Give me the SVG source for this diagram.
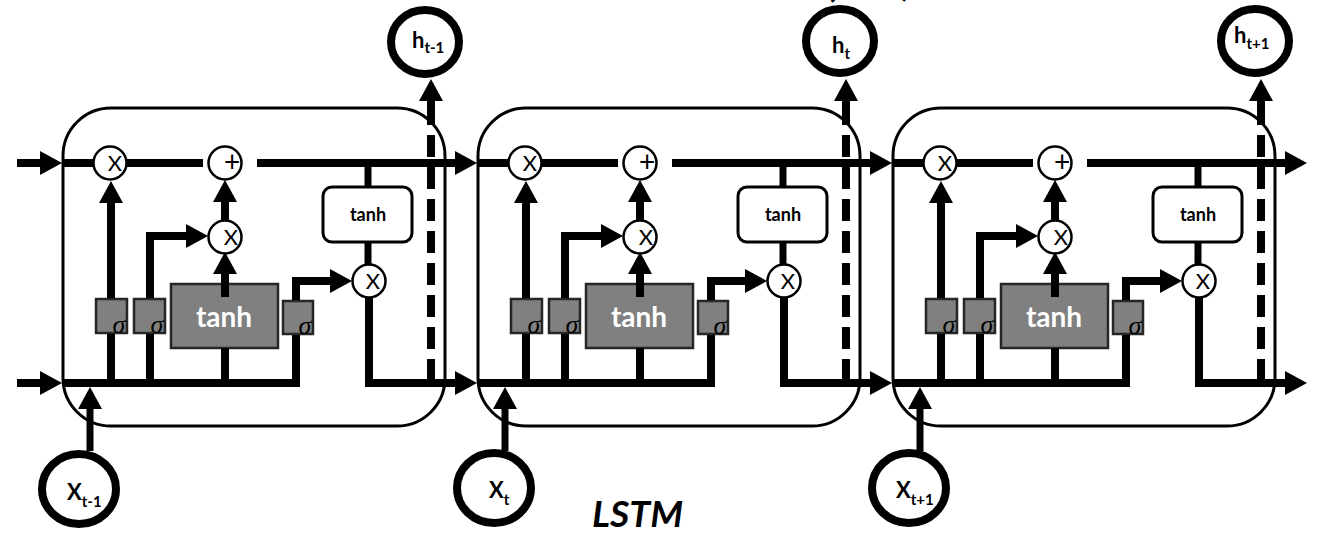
<svg xmlns="http://www.w3.org/2000/svg" width="1324" height="534" viewBox="0 0 1324 534">
<defs>
<marker id="ah" markerUnits="userSpaceOnUse" markerWidth="24" markerHeight="24" refX="0" refY="12" orient="auto" viewBox="0 0 24 24"><path d="M0,0 L22,12 L0,24 z" fill="#000"/></marker>
<style>
.cell{fill:none;stroke:#000;stroke-width:3}
.ln{fill:none;stroke:#000;stroke-width:8;stroke-linejoin:miter}
.thin{stroke-width:7}
.arr{marker-end:url(#ah)}
.dash{stroke-dasharray:22 10}
.op{fill:#fff;stroke:#000;stroke-width:2.5}
.opt{font-family:Lato,"Liberation Sans",sans-serif;font-size:22px;fill:#000;text-anchor:middle}
.plus{font-size:28px}
.wbox{fill:#fff;stroke:#000;stroke-width:3}
.wt{font-family:Lato,"Liberation Sans",sans-serif;font-weight:bold;font-size:18px;fill:#000;text-anchor:middle}
.gate{fill:#808080;stroke:#262626;stroke-width:2.5}
.gt{font-family:Lato,"Liberation Sans",sans-serif;font-weight:bold;font-size:28px;fill:#fff;text-anchor:middle}
.sig{font-family:"Liberation Serif",serif;font-style:italic;font-size:26px;fill:#000;text-anchor:middle}
.io{fill:#fff;stroke:#000;stroke-width:8}
.lbl{font-family:Lato,"Liberation Sans",sans-serif;font-weight:bold;font-size:22px;fill:#000}
.sub{font-size:15px}
.title{font-family:Lato,"Liberation Sans",sans-serif;font-weight:bold;font-style:italic;font-size:36px;fill:#000}
</style>
</defs>
<rect width="1324" height="534" fill="#fff"/>

<!-- cells -->
<g id="cell1">
  <g id="cell1-frame"><rect class="cell" x="63" y="108" width="382" height="318" rx="48"/></g>
  <g id="cell1-forget-mul"><circle class="op" cx="110" cy="163" r="16.5"/><text class="opt" x="115" y="171">X</text></g>
  <g id="cell1-add"><circle class="op" cx="225" cy="163" r="16.5"/><text class="opt plus" x="232" y="172">+</text></g>
  <g id="cell1-input-mul"><circle class="op" cx="225" cy="237" r="16.5"/><text class="opt" x="231" y="245">X</text></g>
  <g id="cell1-output-mul"><circle class="op" cx="369" cy="281" r="16.5"/><text class="opt" x="373" y="289">X</text></g>
  <g id="cell1-tanh-out"><rect class="wbox" x="323" y="187" width="89" height="55" rx="9"/><text class="wt" x="368" y="221">tanh</text></g>
  <g id="cell1-forget-gate"><rect class="gate" x="96" y="299" width="31" height="34"/><text class="sig" x="119" y="333">σ</text></g>
  <g id="cell1-input-gate"><rect class="gate" x="134" y="299" width="31" height="34"/><text class="sig" x="157" y="333">σ</text></g>
  <g id="cell1-candidate"><rect class="gate" x="171" y="284" width="107" height="64"/><text class="gt" x="224" y="327">tanh</text></g>
  <g id="cell1-output-gate"><rect class="gate" x="283" y="301" width="30" height="33"/><text class="sig" x="305" y="334">σ</text></g>
</g>
<g id="cell2" transform="translate(415,0)">
  <g id="cell2-frame"><rect class="cell" x="63" y="108" width="382" height="318" rx="48"/></g>
  <g id="cell2-forget-mul"><circle class="op" cx="110" cy="163" r="16.5"/><text class="opt" x="115" y="171">X</text></g>
  <g id="cell2-add"><circle class="op" cx="225" cy="163" r="16.5"/><text class="opt plus" x="232" y="172">+</text></g>
  <g id="cell2-input-mul"><circle class="op" cx="225" cy="237" r="16.5"/><text class="opt" x="231" y="245">X</text></g>
  <g id="cell2-output-mul"><circle class="op" cx="369" cy="281" r="16.5"/><text class="opt" x="373" y="289">X</text></g>
  <g id="cell2-tanh-out"><rect class="wbox" x="323" y="187" width="89" height="55" rx="9"/><text class="wt" x="368" y="221">tanh</text></g>
  <g id="cell2-forget-gate"><rect class="gate" x="96" y="299" width="31" height="34"/><text class="sig" x="119" y="333">σ</text></g>
  <g id="cell2-input-gate"><rect class="gate" x="134" y="299" width="31" height="34"/><text class="sig" x="157" y="333">σ</text></g>
  <g id="cell2-candidate"><rect class="gate" x="171" y="284" width="107" height="64"/><text class="gt" x="224" y="327">tanh</text></g>
  <g id="cell2-output-gate"><rect class="gate" x="283" y="301" width="30" height="33"/><text class="sig" x="305" y="334">σ</text></g>
</g>
<g id="cell3" transform="translate(830,0)">
  <g id="cell3-frame"><rect class="cell" x="63" y="108" width="382" height="318" rx="48"/></g>
  <g id="cell3-forget-mul"><circle class="op" cx="110" cy="163" r="16.5"/><text class="opt" x="115" y="171">X</text></g>
  <g id="cell3-add"><circle class="op" cx="225" cy="163" r="16.5"/><text class="opt plus" x="232" y="172">+</text></g>
  <g id="cell3-input-mul"><circle class="op" cx="225" cy="237" r="16.5"/><text class="opt" x="231" y="245">X</text></g>
  <g id="cell3-output-mul"><circle class="op" cx="369" cy="281" r="16.5"/><text class="opt" x="373" y="289">X</text></g>
  <g id="cell3-tanh-out"><rect class="wbox" x="323" y="187" width="89" height="55" rx="9"/><text class="wt" x="368" y="221">tanh</text></g>
  <g id="cell3-forget-gate"><rect class="gate" x="96" y="299" width="31" height="34"/><text class="sig" x="119" y="333">σ</text></g>
  <g id="cell3-input-gate"><rect class="gate" x="134" y="299" width="31" height="34"/><text class="sig" x="157" y="333">σ</text></g>
  <g id="cell3-candidate"><rect class="gate" x="171" y="284" width="107" height="64"/><text class="gt" x="224" y="327">tanh</text></g>
  <g id="cell3-output-gate"><rect class="gate" x="283" y="301" width="30" height="33"/><text class="sig" x="305" y="334">σ</text></g>
</g>

<!-- input / output nodes -->
<g id="h-t-1"><ellipse class="io" cx="425" cy="42" rx="34" ry="32"/><text class="lbl" x="412" y="48">h<tspan class="sub" dy="5">t-1</tspan></text></g>
<g id="h-t"><ellipse class="io" cx="840" cy="41" rx="34" ry="32"/><text class="lbl" x="832" y="53">h<tspan class="sub" dy="6">t</tspan></text></g>
<g id="h-t+1"><ellipse class="io" cx="1255" cy="41" rx="34" ry="32"/><text class="lbl" x="1234" y="43">h<tspan class="sub" dy="6">t+1</tspan></text></g>
<g id="x-t-1"><ellipse class="io" cx="79" cy="489" rx="37" ry="35"/><text class="lbl" x="67" y="500">X<tspan class="sub" dy="7">t-1</tspan></text></g>
<g id="x-t"><ellipse class="io" cx="494" cy="488" rx="37" ry="35"/><text class="lbl" x="489" y="498">X<tspan class="sub" dy="7">t</tspan></text></g>
<g id="x-t+1"><ellipse class="io" cx="909" cy="488" rx="37" ry="35"/><text class="lbl" x="896" y="498">X<tspan class="sub" dy="7">t+1</tspan></text></g>

<!-- connectors -->
<g id="connectors">
  <path class="ln arr" d="M17,163 H40"/>
  <path class="ln arr" d="M17,383 H40"/>
  <g id="conn-cell1">
    <path class="ln" d="M63,163 H93"/>
    <path class="ln" d="M127,163 H203"/>
    <path class="ln arr" d="M257,163 H455"/>
    <path class="ln" d="M111,383 V334"/>
    <path class="ln arr" d="M111,298 V203"/>
    <path class="ln" d="M150,383 V334"/>
    <path class="ln arr" d="M150,298 V236 H186"/>
    <path class="ln" d="M225,383 V348"/>
    <path class="ln arr" d="M225,297 V274"/>
    <path class="ln arr" d="M225,220 V202"/>
    <path class="ln" d="M63,383 H296 V335"/>
    <path class="ln arr" d="M296,300 V281 H330"/>
    <path class="ln thin" d="M368,163 V187"/>
    <path class="ln thin" d="M368,242 V264"/>
    <path class="ln arr" d="M369,298 V383 H455"/>
    <path class="ln dash" d="M431,381 V101"/>
    <path class="ln arr" d="M431,103 V101"/>
    <path class="ln thin arr" d="M90,451 V409"/>
  </g>
  <g id="conn-cell2" transform="translate(415,0)">
    <path class="ln" d="M63,163 H93"/>
    <path class="ln" d="M127,163 H203"/>
    <path class="ln arr" d="M257,163 H455"/>
    <path class="ln" d="M111,383 V334"/>
    <path class="ln arr" d="M111,298 V203"/>
    <path class="ln" d="M150,383 V334"/>
    <path class="ln arr" d="M150,298 V236 H186"/>
    <path class="ln" d="M225,383 V348"/>
    <path class="ln arr" d="M225,297 V274"/>
    <path class="ln arr" d="M225,220 V202"/>
    <path class="ln" d="M63,383 H296 V335"/>
    <path class="ln arr" d="M296,300 V281 H330"/>
    <path class="ln thin" d="M368,163 V187"/>
    <path class="ln thin" d="M368,242 V264"/>
    <path class="ln arr" d="M369,298 V383 H455"/>
    <path class="ln dash" d="M431,381 V101"/>
    <path class="ln arr" d="M431,103 V101"/>
    <path class="ln thin arr" d="M90,451 V409"/>
  </g>
  <g id="conn-cell3" transform="translate(830,0)">
    <path class="ln" d="M63,163 H93"/>
    <path class="ln" d="M127,163 H203"/>
    <path class="ln arr" d="M257,163 H455"/>
    <path class="ln" d="M111,383 V334"/>
    <path class="ln arr" d="M111,298 V203"/>
    <path class="ln" d="M150,383 V334"/>
    <path class="ln arr" d="M150,298 V236 H186"/>
    <path class="ln" d="M225,383 V348"/>
    <path class="ln arr" d="M225,297 V274"/>
    <path class="ln arr" d="M225,220 V202"/>
    <path class="ln" d="M63,383 H296 V335"/>
    <path class="ln arr" d="M296,300 V281 H330"/>
    <path class="ln thin" d="M368,163 V187"/>
    <path class="ln thin" d="M368,242 V264"/>
    <path class="ln arr" d="M369,298 V383 H455"/>
    <path class="ln dash" d="M431,381 V101"/>
    <path class="ln arr" d="M431,103 V101"/>
    <path class="ln thin arr" d="M90,451 V409"/>
  </g>
</g>

<!-- captions -->
<g id="caption">
  <text class="title" x="592" y="527" textLength="91" lengthAdjust="spacingAndGlyphs">LSTM</text>
  <text class="title" x="828" y="-3">(</text>
  <text class="title" x="903" y="-4">)</text>
</g>
</svg>
